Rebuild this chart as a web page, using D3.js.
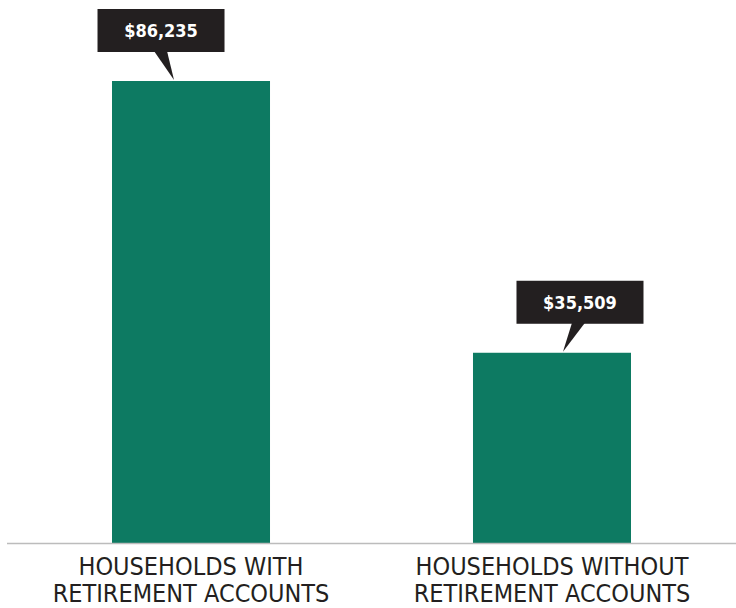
<!DOCTYPE html>
<html><head><meta charset="utf-8">
<script src="https://cdn.jsdelivr.net/npm/d3@7"></script>
<style>body{margin:0;background:#fff}svg{display:block}</style>
</head><body>
<svg id="c" width="736" height="608"></svg>
<script>
const categories = [["HOUSEHOLDS WITH","RETIREMENT ACCOUNTS"],["HOUSEHOLDS WITHOUT","RETIREMENT ACCOUNTS"]];
const values = [86235, 35509];
const valueLabels = ["$86,235", "$35,509"];
const calloutOffsets = [-30, 28];   // box center relative to bar center
const tipOffsets = [-17, 11];       // pointer tip relative to bar center

const svg = d3.select("#c");
const W = 736, baseY = 543;
const x = d3.scaleBand().domain([0,1]).range([7, 736]).paddingInner(0.5623).paddingOuter(0.2909);
const y = d3.scaleLinear().domain([0, 86235]).range([baseY, 81]);

svg.selectAll("rect.bar").data(values).join("rect").attr("class","bar")
  .attr("x",(d,i)=>x(i)).attr("width",x.bandwidth())
  .attr("y",d=>y(d)).attr("height",d=>baseY-y(d)).attr("fill","#0d7a62");

svg.append("line").attr("x1",7).attr("x2",W).attr("y1",baseY+0.5).attr("y2",baseY+0.5)
  .attr("stroke","#bcbcbc").attr("stroke-width",1.5);

const bw = 127, bh = 43;
values.forEach((v,i)=>{
  const cx = x(i)+x.bandwidth()/2;
  const bcx = cx + calloutOffsets[i];
  const top = y(v);
  const by = top - 29 - bh;
  const g = svg.append("g");
  g.append("rect").attr("x",bcx-bw/2).attr("y",by).attr("width",bw).attr("height",bh).attr("fill","#231f20");
  const tip = cx + tipOffsets[i];
  const bx0 = i===0 ? bcx-7 : bcx-8, bx1 = bx0+13;
  g.append("path").attr("d",`M${bx0},${by+bh-1}L${bx1},${by+bh-1}L${tip},${top-1}Z`).attr("fill","#231f20");
  g.append("text").attr("x",bcx).attr("y",by+bh/2+6.5).attr("text-anchor","middle")
    .attr("fill","#fff").attr("font-family","'DejaVu Sans Condensed','DejaVu Sans',sans-serif")
    .attr("font-weight","bold").attr("font-size",18).text(valueLabels[i]);
});

categories.forEach((lines,i)=>{
  const cx = x(i)+x.bandwidth()/2;
  const t = svg.append("text").attr("text-anchor","middle").attr("fill","#231f20")
    .attr("font-family","'DejaVu Sans Condensed',sans-serif")
    .attr("font-size",25);
  lines.forEach((l,j)=>t.append("tspan").attr("x",cx).attr("y",575+j*27).text(l));
});
</script>
</body></html>
